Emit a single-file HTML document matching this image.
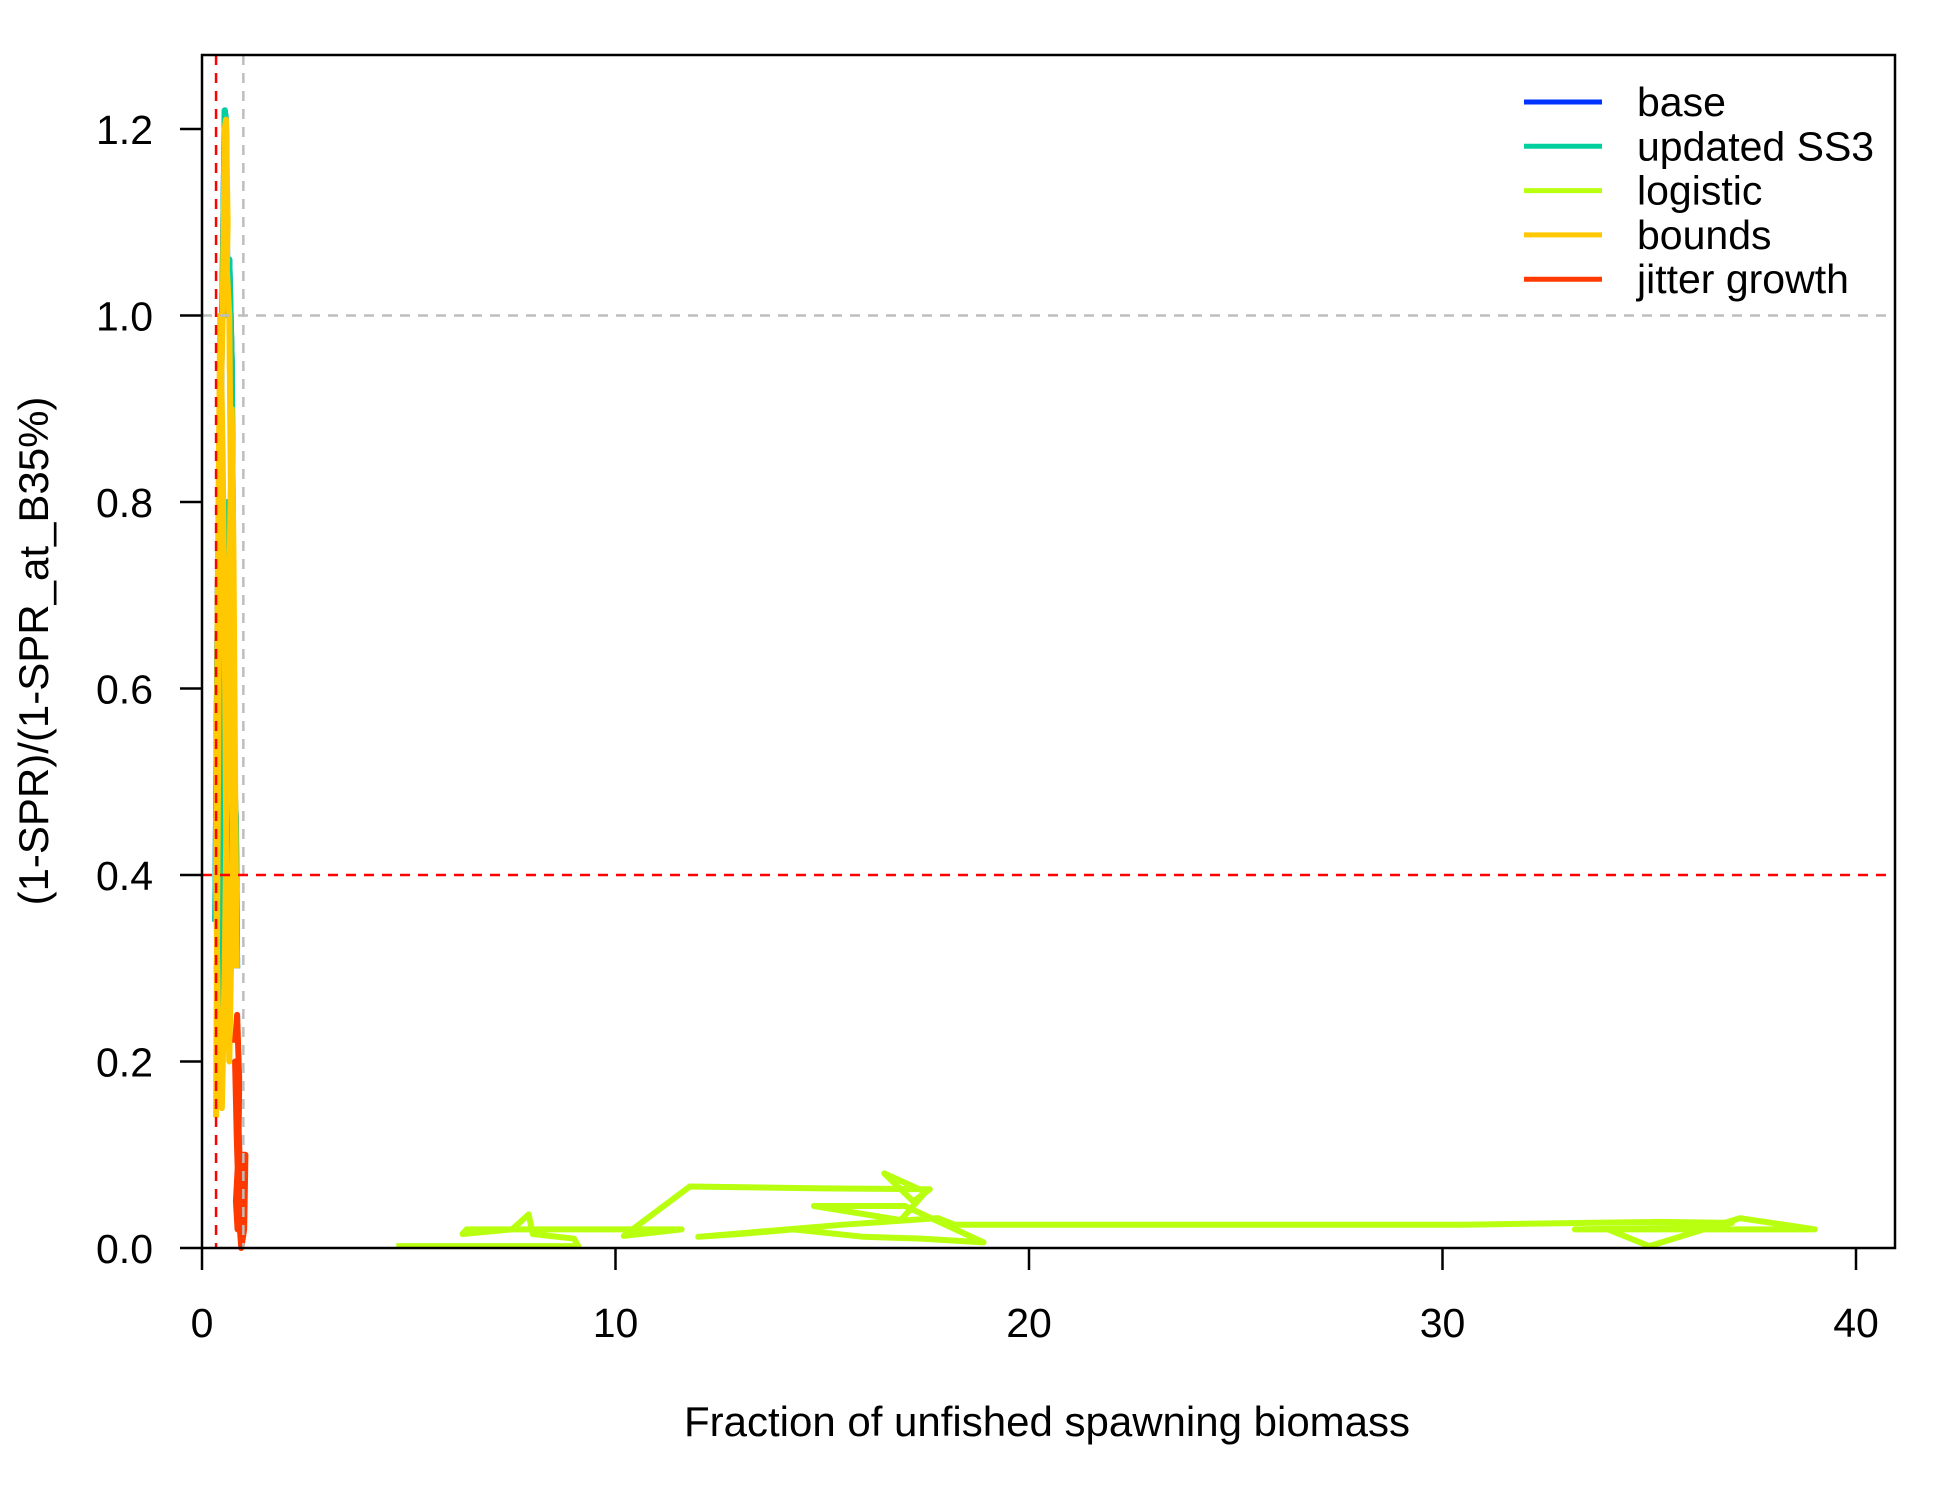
<!DOCTYPE html>
<html><head><meta charset="utf-8"><style>
body{margin:0;background:#fff;}
svg{display:block;font-family:"Liberation Sans",sans-serif;}
</style></head><body>
<svg id="chart" width="1950" height="1500" xmlns="http://www.w3.org/2000/svg">
<rect width="1950" height="1500" fill="#fff"/>
<g id="marks"></g>
<g id="axes"></g>
</svg>
<script>
const seriesNames=["base","updated SS3","logistic","bounds","jitter growth"];
const seriesColors=["#0033ff","#00cfa0","#b8ff10","#ffc800","#ff3a00"];
const baseX=[0.32,0.38,0.45,0.5,0.55,0.58,0.62,0.6,0.66,0.72,0.75,0.78,0.72,0.66,0.6,0.55,0.5,0.42,0.36,0.4,0.48,0.56,0.62,0.7,0.76,0.82,0.85];
const baseY=[0.35,0.7,0.88,1.04,1.22,1.21,1.0,1.06,1.06,0.95,0.75,0.5,0.33,0.3,0.46,0.62,0.8,0.55,0.3,0.2,0.4,0.62,0.8,0.68,0.52,0.46,0.3];
const ss3X=[0.32,0.38,0.45,0.5,0.55,0.58,0.62,0.6,0.66,0.72,0.75,0.78,0.72,0.66,0.6,0.55,0.5,0.42,0.36,0.4,0.48,0.56,0.62,0.7,0.76,0.82,0.85];
const ss3Y=[0.35,0.7,0.88,1.04,1.22,1.21,1.0,1.06,1.06,0.95,0.75,0.5,0.33,0.3,0.46,0.62,0.8,0.55,0.3,0.2,0.4,0.62,0.8,0.68,0.52,0.46,0.3];
const logX=[4.7,9.1,9.0,8.0,7.9,7.5,6.3,6.4,11.6,10.2,11.8,15.0,17.6,17.2,16.5,17.5,16.9,14.8,17.0,18.9,17.4,16.0,14.3,13.0,12.0,15.5,17.8,18.2,30.5,33.5,35.2,37.0,36.3,33.2,39.0,37.2,35.0,34.0,36.5];
const logY=[0.002,0.002,0.01,0.015,0.036,0.02,0.015,0.02,0.02,0.013,0.066,0.064,0.063,0.05,0.08,0.06,0.03,0.045,0.045,0.006,0.01,0.012,0.02,0.015,0.012,0.025,0.032,0.025,0.025,0.027,0.028,0.027,0.022,0.02,0.02,0.032,0.002,0.02,0.02];
const bndX=[0.34,0.36,0.4,0.45,0.5,0.55,0.58,0.62,0.6,0.66,0.7,0.72,0.75,0.7,0.66,0.6,0.56,0.5,0.44,0.38,0.34,0.4,0.48,0.55,0.6,0.66,0.72,0.76,0.8,0.84];
const bndY=[0.14,0.3,0.6,0.9,1.0,1.2,1.21,1.1,1.05,1.0,0.8,0.6,0.45,0.3,0.2,0.35,0.6,0.85,1.0,0.7,0.4,0.2,0.15,0.3,0.5,0.7,0.9,0.75,0.5,0.3];
const jitX=[0.8,0.85,0.9,0.88,0.82,0.86,0.92,0.98,1.05,1.02,0.95,0.9,0.84,0.8,0.87,0.95,1.0,1.04];
const jitY=[0.22,0.25,0.18,0.1,0.05,0.02,0.08,0.1,0.1,0.02,0.0,0.03,0.12,0.2,0.15,0.04,0.02,0.08];
const xTicks=[0,10,20,30,40];
const yTicks=[0.0,0.2,0.4,0.6,0.8,1.0,1.2];
const yTickLabels=["0.0","0.2","0.4","0.6","0.8","1.0","1.2"];

const L=202,R=1895,T=55,B=1248;
const sx=v=>202+v*41.35;
const sy=v=>1248-v*932.5;
const NS="http://www.w3.org/2000/svg";
const marks=document.getElementById('marks'),axes=document.getElementById('axes');
function mk(tag,attrs,parent){const e=document.createElementNS(NS,tag);for(const k in attrs)e.setAttribute(k,attrs[k]);parent.appendChild(e);return e;}
function poly(xs,ys,color,name){
  const p=mk('polyline',{points:xs.map((x,i)=>sx(x)+','+sy(ys[i])).join(' '),fill:'none',stroke:color,'stroke-width':6,'stroke-linejoin':'round'},marks);
  
  
}
poly(baseX,baseY,seriesColors[0],'series-base');
poly(ss3X,ss3Y,seriesColors[1],'series-updated-ss3');
poly(logX,logY,seriesColors[2],'series-logistic');
poly(bndX,bndY,seriesColors[3],'series-bounds');
poly(jitX,jitY,seriesColors[4],'series-jitter-growth');
let r;
r=mk('line',{x1:L,x2:R,y1:sy(1),y2:sy(1),stroke:'#bebebe','stroke-width':2.5,'stroke-dasharray':'10,8'},axes);


r=mk('line',{x1:sx(1),x2:sx(1),y1:T,y2:B,stroke:'#bebebe','stroke-width':2.5,'stroke-dasharray':'10,8'},axes);


r=mk('line',{x1:L,x2:R,y1:sy(0.4),y2:sy(0.4),stroke:'#ff0000','stroke-width':2.5,'stroke-dasharray':'10,8'},axes);


r=mk('line',{x1:sx(0.34),x2:sx(0.34),y1:T,y2:B,stroke:'#ff0000','stroke-width':2.5,'stroke-dasharray':'10,8'},axes);


r=mk('rect',{x:L,y:T,width:R-L,height:B-T,fill:'none',stroke:'#000','stroke-width':2.5},axes);


xTicks.forEach(v=>{
  const t=mk('line',{x1:sx(v),x2:sx(v),y1:B,y2:B+22,stroke:'#000','stroke-width':2.5},axes);
  
  
  const l=mk('text',{x:sx(v),y:1337,'font-size':41,'text-anchor':'middle'},axes);l.textContent=v;
  
  
});
yTicks.forEach((v,i)=>{
  const t=mk('line',{x1:L-22,x2:L,y1:sy(v),y2:sy(v),stroke:'#000','stroke-width':2.5},axes);
  
  
  const l=mk('text',{x:153,y:sy(v)+15,'font-size':41,'text-anchor':'end'},axes);l.textContent=yTickLabels[i];
  
  
});
let tx=mk('text',{x:1047,y:1436,'font-size':42,'text-anchor':'middle'},axes);tx.textContent='Fraction of unfished spawning biomass';


tx=mk('text',{x:0,y:0,'font-size':42,'text-anchor':'middle',transform:'translate(48,651) rotate(-90)'},axes);tx.textContent='(1-SPR)/(1-SPR_at_B35%)';


seriesNames.forEach((n,i)=>{
  const y=102+i*44.3;
  const g=mk('g',{},axes);
  
  
  mk('line',{x1:1524,x2:1602,y1:y,y2:y,stroke:seriesColors[i],'stroke-width':5},g);
  const t=mk('text',{x:1637,y:y+14,'font-size':41},g);t.textContent=n;
});
</script>
</body></html>
